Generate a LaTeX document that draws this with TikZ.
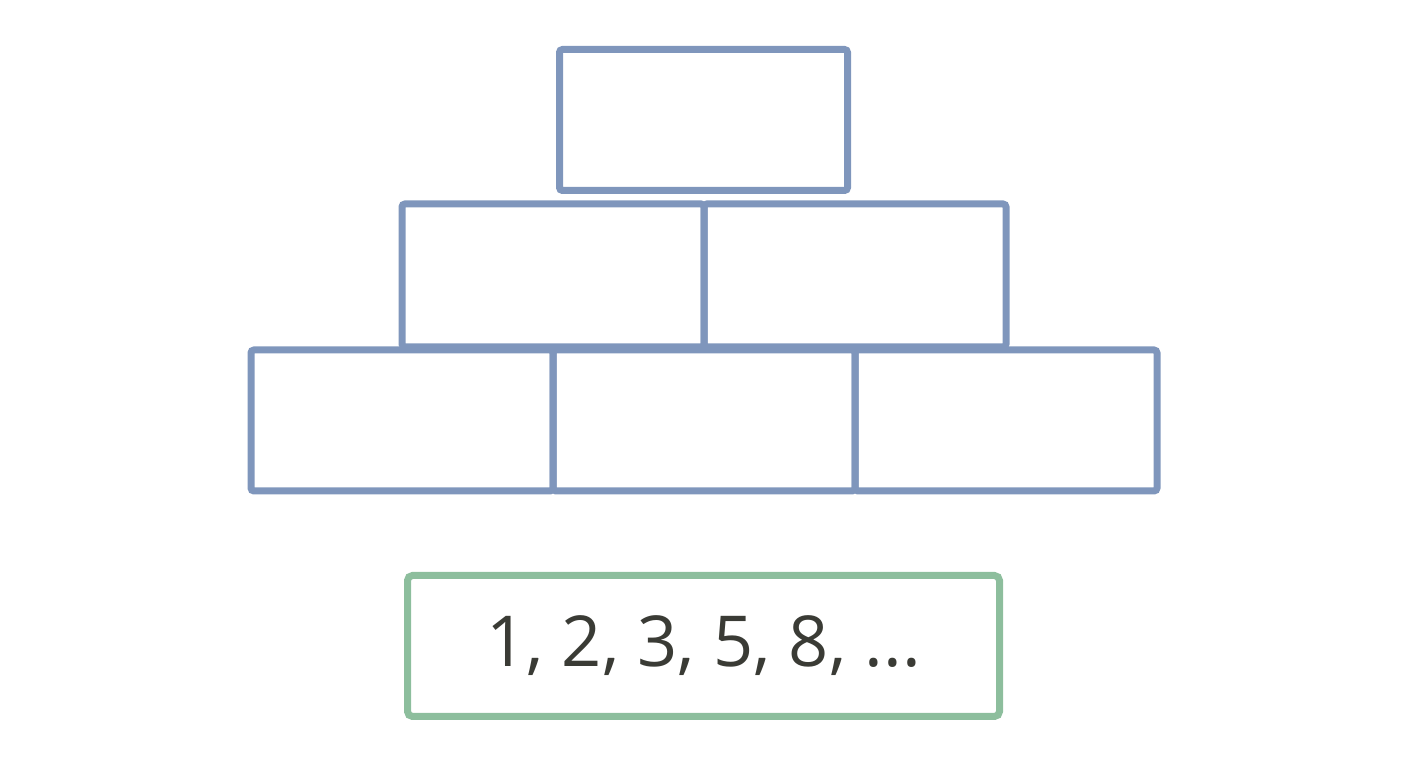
\documentclass[tikz,border=0pt]{standalone}
\usepackage{fontspec}
\setmainfont{Open Sans}
\definecolor{brickblue}{HTML}{7F96BC}
\definecolor{boxgreen}{HTML}{8DBE9D}
\definecolor{numgray}{HTML}{3A3B35}
\tikzset{
    brick/.style={draw=brickblue,line width=0.14cm,rounded corners=0.06cm,minimum width=6.04cm,minimum height=2.82cm,inner sep=0pt},
    seqbox/.style={draw=boxgreen,line width=0.14cm,rounded corners=0.1cm,minimum width=11.84cm,minimum height=2.82cm,inner sep=0pt,text=numgray,font=\fontsize{40}{48}\selectfont}
}
\begin{document}
\begin{tikzpicture}
    \useasboundingbox (0,0) rectangle (28.16,15.36);
    % bottom row
    \node[brick] (b1) at (8.04,6.95) {};
    \node[brick] (b2) at (14.08,6.95) {};
    \node[brick] (b3) at (20.12,6.95) {};
    % middle row
    \node[brick,minimum height=2.86cm] (m1) at (11.06,9.85) {};
    \node[brick,minimum height=2.86cm] (m2) at (17.10,9.85) {};
    % top
    \node[brick,minimum width=5.76cm] (t1) at (14.07,12.96) {};
    % sequence
    \node[seqbox] (seq) at (14.07,2.44) {\raisebox{-0.05cm}{1, 2, 3, 5, 8, ...}};
\end{tikzpicture}
\end{document}
